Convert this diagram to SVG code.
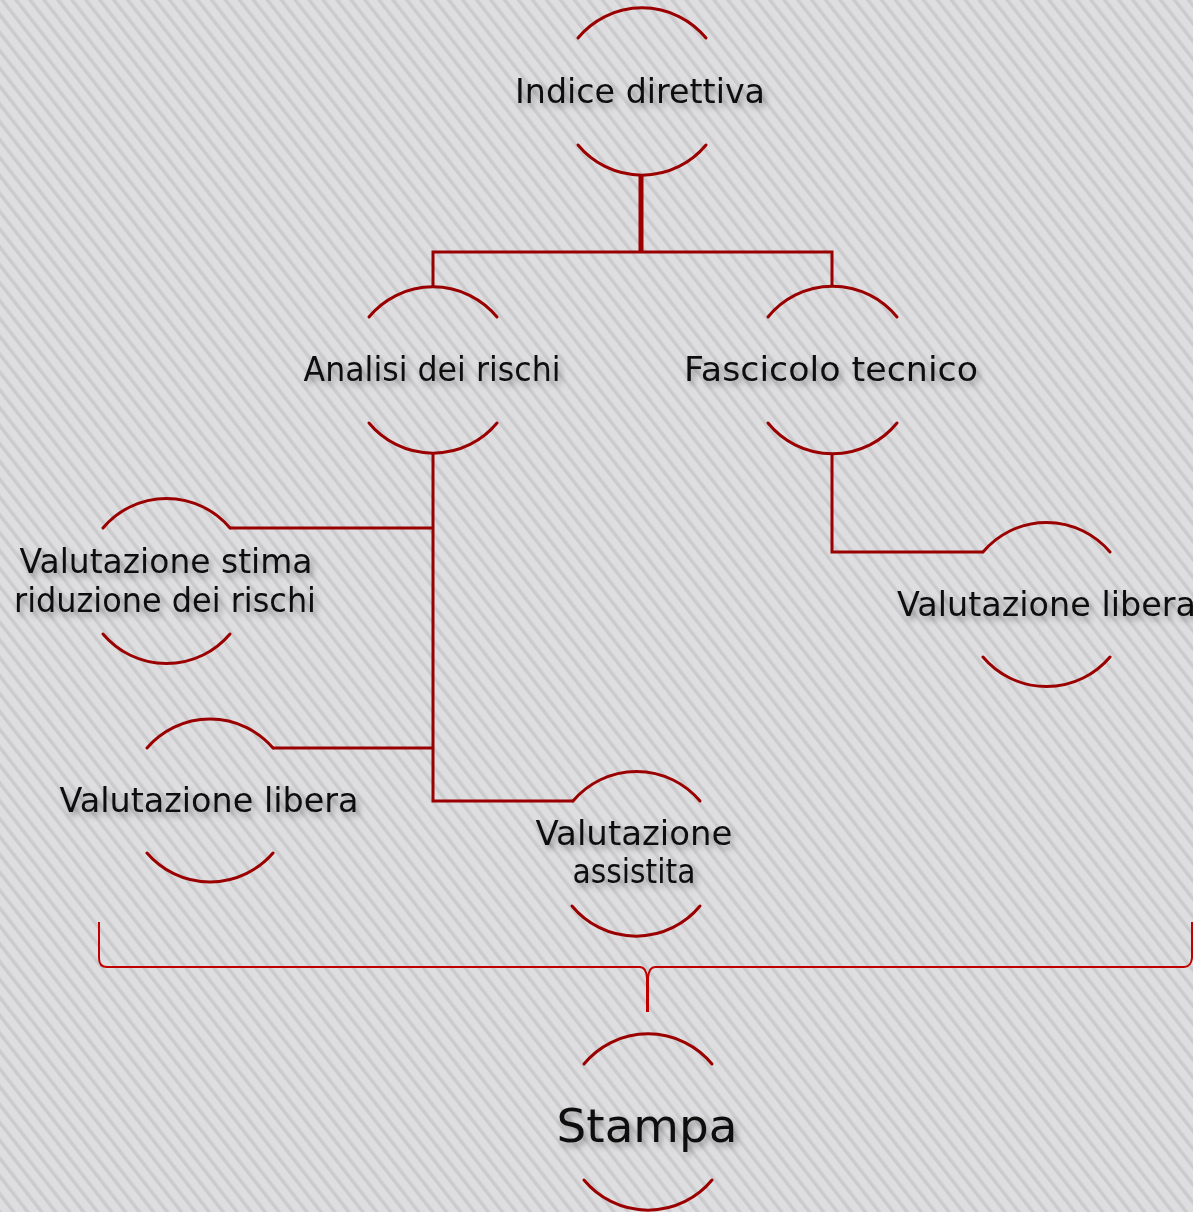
<svg xmlns="http://www.w3.org/2000/svg" width="1193" height="1212" viewBox="0 0 1193 1212">
<defs>
<pattern id="stripes" width="11" height="20" patternUnits="userSpaceOnUse" patternTransform="rotate(-38)">
<rect x="0" y="0" width="11" height="20" fill="#dedee0"/>
<rect x="0" y="0" width="3" height="20" fill="#cbcbce"/>
<rect x="3" y="0" width="1" height="20" fill="#d5d5d8"/>
</pattern>
<filter id="shadow" x="-10%" y="-30%" width="120%" height="170%">
<feDropShadow dx="3" dy="4" stdDeviation="3" flood-color="#000" flood-opacity="0.35"/>
</filter>
<style>
.arc{fill:none;stroke:#9a0000;stroke-width:3;stroke-linecap:round}
.conn{fill:none;stroke:#9a0000;stroke-width:3}
.stem{fill:none;stroke:#9a0000;stroke-width:5}
.brace{fill:none;stroke:#c00000;stroke-width:2}
.lbl{font-family:"DejaVu Sans","Liberation Sans",sans-serif;font-size:34px;fill:#111;filter:url(#shadow)}
.big{font-size:46px}
</style>
</defs>
<rect x="0" y="0" width="1193" height="1212" fill="url(#stripes)"/>

<g id="connectors">
<path class="stem" d="M641 174 V253"/>
<path class="conn" d="M433 287 V252 H832 V287"/>
<path class="conn" d="M433 453 V801 H573"/>
<path class="conn" d="M230 528 H433"/>
<path class="conn" d="M273 748 H433"/>
<path class="conn" d="M832 453 V552 H983"/>
<path class="brace" d="M99 922 V958 Q99 967 107 967 H640 Q646 967 647 978 V1012 M648 1012 V978 Q649 967 655 967 H1184 Q1191 967 1192 958 V922"/>
</g>

<g id="node-indice">
<path class="arc" d="M578 38 A83 83 0 0 1 706 38"/>
<path class="arc" d="M578 145 A83 83 0 0 0 706 145"/>
<text class="lbl" x="640" y="103" text-anchor="middle" textLength="250" lengthAdjust="spacingAndGlyphs">Indice direttiva</text>
</g>

<g id="node-analisi">
<path class="arc" d="M369 317 A83 83 0 0 1 497 317"/>
<path class="arc" d="M369 423 A83 83 0 0 0 497 423"/>
<text class="lbl" x="432" y="381" text-anchor="middle" textLength="257" lengthAdjust="spacingAndGlyphs">Analisi dei rischi</text>
</g>

<g id="node-fascicolo">
<path class="arc" d="M768 317 A83 83 0 0 1 897 317"/>
<path class="arc" d="M768 423 A83 83 0 0 0 897 423"/>
<text class="lbl" x="831" y="381" text-anchor="middle" textLength="294" lengthAdjust="spacingAndGlyphs">Fascicolo tecnico</text>
</g>

<g id="node-stima">
<path class="arc" d="M103 528 A83 83 0 0 1 230 528"/>
<path class="arc" d="M103 634 A83 83 0 0 0 230 634"/>
<text class="lbl" x="166" y="573" text-anchor="middle" textLength="293" lengthAdjust="spacingAndGlyphs">Valutazione stima</text>
<text class="lbl" x="165" y="612" text-anchor="middle" textLength="302" lengthAdjust="spacingAndGlyphs">riduzione dei rischi</text>
</g>

<g id="node-libera-left">
<path class="arc" d="M147 748 A83 83 0 0 1 273 748"/>
<path class="arc" d="M147 853 A83 83 0 0 0 273 853"/>
<text class="lbl" x="209" y="812" text-anchor="middle" textLength="299" lengthAdjust="spacingAndGlyphs">Valutazione libera</text>
</g>

<g id="node-assistita">
<path class="arc" d="M573 801 A83 83 0 0 1 700 801"/>
<path class="arc" d="M572 906 A83 83 0 0 0 700 906"/>
<text class="lbl" x="634" y="845" text-anchor="middle" textLength="197" lengthAdjust="spacingAndGlyphs">Valutazione</text>
<text class="lbl" x="634" y="883" text-anchor="middle" textLength="123" lengthAdjust="spacingAndGlyphs">assistita</text>
</g>

<g id="node-libera-right">
<path class="arc" d="M983 552 A83 83 0 0 1 1110 552"/>
<path class="arc" d="M983 657 A83 83 0 0 0 1110 657"/>
<text class="lbl" x="897" y="616" textLength="299" lengthAdjust="spacingAndGlyphs">Valutazione libera</text>
</g>

<g id="node-stampa">
<path class="arc" d="M584 1064 A83 83 0 0 1 712 1064"/>
<path class="arc" d="M584 1180 A83 83 0 0 0 712 1180"/>
<text class="lbl big" x="647" y="1142" text-anchor="middle" textLength="181" lengthAdjust="spacingAndGlyphs">Stampa</text>
</g>
</svg>
